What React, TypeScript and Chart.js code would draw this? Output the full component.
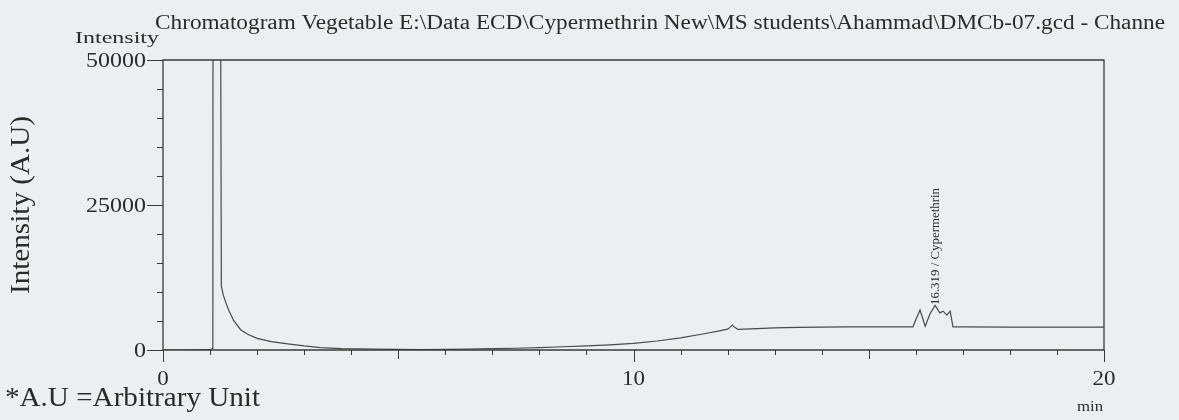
import React, { useEffect, useRef } from "react";
import { Chart, registerables } from "chart.js";

Chart.register(...registerables);

// Retention time (min)
const times = [
  0, 0.5, 1.0, 1.06, 1.07, 1.18, 1.24, 1.28, 1.33, 1.4, 1.5, 1.65, 1.8, 2.0, 2.3, 2.65, 3.0, 3.35,
  3.8, 4.5, 5.0, 5.5, 6.0, 6.5, 7.0, 7.5, 8.0, 8.5, 9.0, 9.5, 10.0, 10.5, 11.0, 11.5, 11.8, 12.0,
  12.05, 12.1, 12.15, 12.22, 12.5, 13.0, 13.5, 14.0, 14.5, 15.0, 15.5, 15.94, 16.0, 16.09, 16.2,
  16.3, 16.41, 16.51, 16.58, 16.66, 16.73, 16.79, 17.0, 18.0, 19.0, 20.0,
];
// Intensity (A.U)
const intensity = [
  0, 0, 50, 300, 200000, 200000, 11000, 9500, 8300, 6800, 5100, 3500, 2700, 2000, 1450, 1050, 700, 420,
  250, 150, 100, 80, 100, 150, 220, 300, 420, 560, 720, 900, 1150, 1550, 2100, 2800, 3250, 3600,
  3900, 4300, 3900, 3550, 3650, 3800, 3900, 3950, 4000, 4000, 4000, 4000, 5200, 6900, 4100,
  6200, 7700, 6400, 6700, 6000, 6700, 4000, 4000, 3950, 3950, 3950,
];

const xTickValues = [0, 10, 20];
const xTickLabels = ["0", "10", "20"];
const yTickValues = [0, 25000, 50000];
const yTickLabels = ["0", "25000", "50000"];

const titleText =
  "Chromatogram Vegetable E:\\Data ECD\\Cypermethrin New\\MS students\\Ahammad\\DMCb-07.gcd - Channe";
const yUnitText = "Intensity";
const yTitleText = "Intensity (A.U)";
const xUnitText = "min";
const footnoteText = "*A.U =Arbitrary Unit";
const peakTime = 16.319;
const peakLabel = "16.319 / Cypermethrin";

const FONT = '"Liberation Serif", "Times New Roman", serif';
const TEXT_COLOR = "#2b2b2b";
const AXIS_COLOR = "#3a3a3a";

type TOpts = {
  size: number;
  sx?: number;
  width?: number;
  align?: CanvasTextAlign;
  baseline?: CanvasTextBaseline;
  rotate?: number;
};

function drawText(ctx: CanvasRenderingContext2D, text: string, x: number, y: number, o: TOpts) {
  ctx.save();
  ctx.font = `${o.size}px ${FONT}`;
  ctx.fillStyle = TEXT_COLOR;
  ctx.translate(x, y);
  if (o.rotate) ctx.rotate(o.rotate);
  const w = ctx.measureText(text).width;
  const sx = o.width ? o.width / w : o.sx || 1;
  ctx.scale(sx, 1);
  ctx.textAlign = o.align || "left";
  ctx.textBaseline = o.baseline || "alphabetic";
  ctx.fillText(text, 0, 0);
  ctx.restore();
}

const decorPlugin = {
  id: "decor",
  beforeDraw(chart: any) {
    const { ctx, width, height } = chart;
    ctx.save();
    ctx.fillStyle = "#eceef2";
    ctx.fillRect(0, 0, width, height);
    ctx.restore();
  },
  afterDatasetsDraw(chart: any) {
    const { ctx, chartArea } = chart;
    const { left, right, top, bottom } = chartArea;
    const xs = chart.scales.x;
    const ys = chart.scales.y;
    ctx.save();
    ctx.strokeStyle = AXIS_COLOR;
    ctx.lineWidth = 1.3;
    ctx.beginPath();
    ctx.moveTo(left, bottom);
    ctx.lineTo(left, top);
    ctx.lineTo(right, top);
    ctx.lineTo(right, bottom);
    ctx.moveTo(left, bottom);
    ctx.lineTo(right, bottom);
    ctx.stroke();

    ctx.lineWidth = 1;
    ctx.beginPath();
    for (const t of ys.ticks) {
      const py = Math.round(ys.getPixelForValue(t.value)) + 0.5;
      const len = t.value % 25000 === 0 ? 16 : 6;
      ctx.moveTo(left - len, py);
      ctx.lineTo(left, py);
    }
    for (const t of xs.ticks) {
      const px = Math.round(xs.getPixelForValue(t.value)) + 0.5;
      const len = t.value % 10 === 0 ? 12 : t.value % 5 === 0 ? 9 : 5;
      ctx.moveTo(px, bottom);
      ctx.lineTo(px, bottom + len);
    }
    ctx.stroke();
    ctx.restore();

    for (const t of ys.ticks) {
      if (!t.label) continue;
      const py = ys.getPixelForValue(t.value);
      drawText(ctx, String(t.label), left - 17, py + 7, { size: 20, sx: 1.2, align: "right" });
    }
    for (const t of xs.ticks) {
      if (!t.label) continue;
      const px = xs.getPixelForValue(t.value);
      drawText(ctx, String(t.label), px, bottom + 35, { size: 20, sx: 1.15, align: "center" });
    }

    drawText(ctx, titleText, 155, 29, { size: 20, width: 1010 });
    drawText(ctx, yUnitText, 75, 43, { size: 17, width: 84 });
    drawText(ctx, yTitleText, 29, (top + bottom) / 2, {
      size: 27,
      width: 178,
      align: "center",
      rotate: -Math.PI / 2,
    });
    drawText(ctx, xUnitText, right - 14, 411, { size: 14, sx: 1.2, align: "center" });
    drawText(ctx, footnoteText, 5, 406, { size: 27, width: 255 });

    const ppx = xs.getPixelForValue(peakTime);
    drawText(ctx, peakLabel, ppx + 8, 305, {
      size: 12.5,
      width: 117,
      align: "left",
      rotate: -Math.PI / 2,
    });
  },
};

export default function App() {
  const ref = useRef<HTMLCanvasElement | null>(null);
  useEffect(() => {
    if (!ref.current) return;
    const chart = new Chart(ref.current, {
      type: "line",
      data: {
        datasets: [
          {
            data: times.map((t, i) => ({ x: t, y: intensity[i] })),
            borderColor: "#4a4a4a",
            borderWidth: 1.2,
            pointRadius: 0,
            tension: 0,
            fill: false,
          },
        ],
      },
      options: {
        animation: false,
        responsive: false,
        devicePixelRatio: 1,
        layout: { padding: { top: 60, right: 75, left: 0, bottom: 0 } },
        plugins: { legend: { display: false }, tooltip: { enabled: false }, title: { display: false } },
        scales: {
          x: {
            type: "linear",
            min: 0,
            max: 20,
            grid: { display: false },
            border: { display: false },
            ticks: {
              display: false,
              stepSize: 1,
              autoSkip: false,
              callback: (v: any) => {
                const i = xTickValues.indexOf(Number(v));
                return i >= 0 ? xTickLabels[i] : "";
              },
            },
            afterFit: (s: any) => {
              s.height = 70;
            },
          },
          y: {
            type: "linear",
            min: 0,
            max: 50000,
            grid: { display: false },
            border: { display: false },
            ticks: {
              display: false,
              stepSize: 5000,
              autoSkip: false,
              callback: (v: any) => {
                const i = yTickValues.indexOf(Number(v));
                return i >= 0 ? yTickLabels[i] : "";
              },
            },
            afterFit: (s: any) => {
              s.width = 163;
            },
          },
        },
      },
      plugins: [decorPlugin],
    });
    return () => chart.destroy();
  }, []);
  return (
    <div style={{ position: "fixed", left: 0, top: 0, width: 1179, height: 420 }}>
      <canvas ref={ref} width={1179} height={420} style={{ display: "block" }} />
    </div>
  );
}
